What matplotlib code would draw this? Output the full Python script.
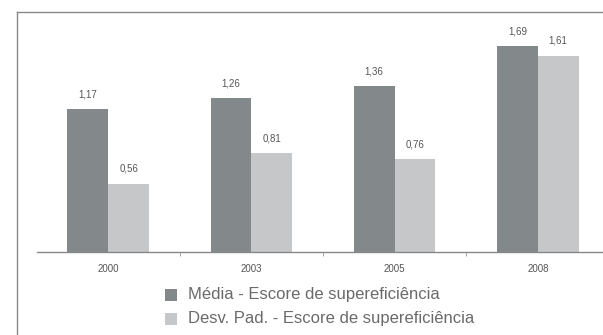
import matplotlib
matplotlib.use("Agg")
import matplotlib.pyplot as plt
from matplotlib.lines import Line2D
from matplotlib.patches import Rectangle
import numpy as np

years = ["2000", "2003", "2005", "2008"]
media = [1.17, 1.26, 1.36, 1.69]
desvpad = [0.56, 0.81, 0.76, 1.61]
labels = ["Média - Escore de supereficiência", "Desv. Pad. - Escore de supereficiência"]

dark = "#83888b"
light = "#c5c7c9"
txt = "#555555"

plt.rcParams['font.family'] = ['Liberation Sans', 'DejaVu Sans']

fig = plt.figure(figsize=(6.03, 3.35), dpi=100)
fig.patch.set_facecolor("white")
ax = fig.add_axes([37/603, 83/335, 1 - 37/603, 240/335])

x = np.arange(len(years))
w = 0.285
b1 = ax.bar(x - w/2, media, w, color=dark)
b2 = ax.bar(x + w/2, desvpad, w, color=light)

for bars, vals in ((b1, media), (b2, desvpad)):
    for r, v in zip(bars, vals):
        ax.annotate(f"{v:.2f}".replace(".", ","), (r.get_x() + r.get_width()/2, v),
                    xytext=(0, 7), textcoords="offset points", ha="center", va="bottom",
                    fontsize=7, color=txt)

ax.set_xlim(-0.497, 3.455)
ax.set_ylim(0, 240/122)
ax.set_xticks(x)
ax.set_xticklabels(years, fontsize=7, color=txt)
ax.tick_params(axis="x", length=0, pad=9)
ax.set_xticks([0.5, 1.5, 2.5], minor=True)
ax.tick_params(axis="x", which="minor", length=3, color="#999999", direction="out")
ax.set_yticks([])
for s in ("left", "right", "top"):
    ax.spines[s].set_visible(False)
ax.spines["bottom"].set_color("#888888")
ax.spines["bottom"].set_linewidth(1.0)

# outer frame
fig.add_artist(Line2D([17/603, 17/603], [0, 1 - 12/335], transform=fig.transFigure, color="#8a8a8a", lw=1.0))
fig.add_artist(Line2D([17/603, 1], [1 - 12/335, 1 - 12/335], transform=fig.transFigure, color="#8a8a8a", lw=1.0))

# legend
for i, (lab, c) in enumerate(zip(labels, [dark, light])):
    yc = 1 - (295 + 24*i)/335
    fig.add_artist(Rectangle((165/603, yc - 6/335), 12/603, 12/335, transform=fig.transFigure,
                             facecolor=c, edgecolor="none"))
    fig.text(188/603, yc, lab, fontsize=12, color="#6a6a6a", va="center", ha="left")

fig.savefig("out.png", dpi=100)
